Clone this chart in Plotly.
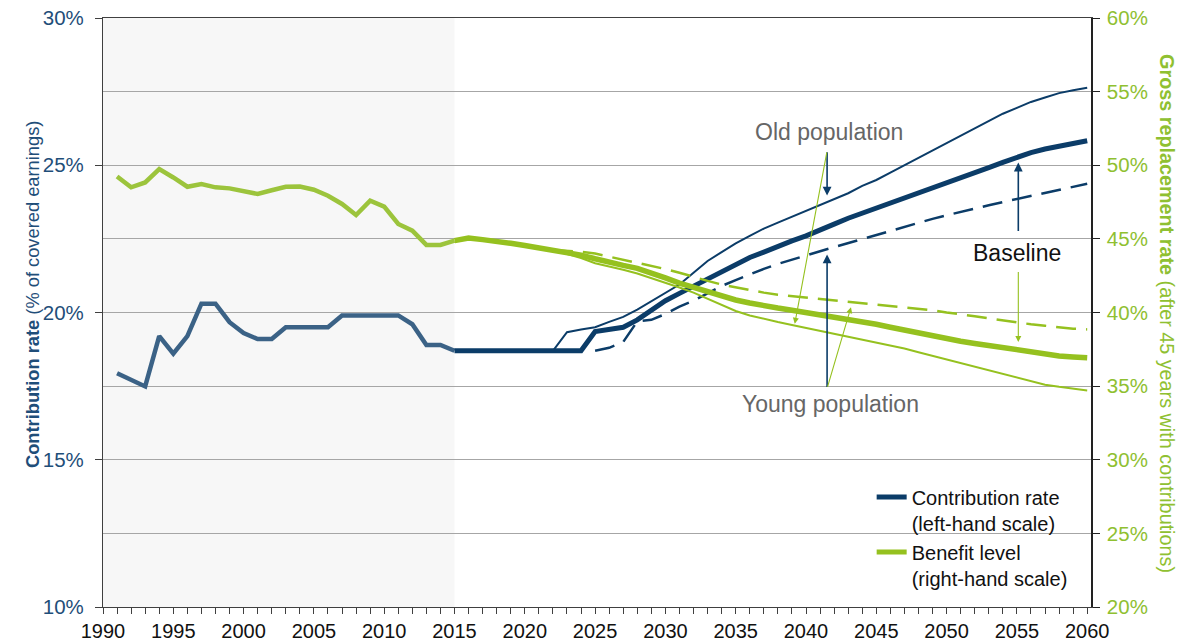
import plotly.graph_objects as go

# ---------------- data ----------------
years_hist = list(range(1991, 2016))
contrib_hist = [17.94, 17.72, 17.49, 19.2, 18.6, 19.2, 20.3, 20.3, 19.67, 19.3, 19.1, 19.1,
                19.5, 19.5, 19.5, 19.5, 19.9, 19.9, 19.9, 19.9, 19.9, 19.6, 18.9, 18.9, 18.7]
benefit_hist = [49.24, 48.5, 48.83, 49.74, 49.17, 48.54, 48.72, 48.5, 48.43, 48.27, 48.05, 48.3,
                48.54, 48.56, 48.34, 47.93, 47.37, 46.62, 47.6, 47.19, 46.01, 45.56, 44.59, 44.59, 44.88]

years_base = list(range(2015, 2061))
contrib_base = [18.7] * 10 + [19.35, 19.42, 19.5, 19.75, 20.1, 20.4, 20.65, 20.9, 21.15, 21.4,
                              21.65, 21.87, 22.05, 22.25, 22.43, 22.6, 22.82, 23.0, 23.2, 23.37,
                              23.55, 23.72, 23.88, 24.04, 24.2, 24.37, 24.55, 24.73, 24.92, 25.1,
                              25.28, 25.43, 25.55, 25.65, 25.75, 25.83]
benefit_base = [44.88, 45.06, 44.95, 44.85, 44.7, 44.55, 44.4, 44.25, 44.1, 43.9, 43.65, 43.4,
                43.2, 43.0, 42.7, 42.35, 42.0, 41.7, 41.4, 41.1, 40.85, 40.65, 40.45, 40.3, 40.15,
                40.0, 39.85, 39.7, 39.55, 39.38, 39.2, 39.0, 38.8, 38.58, 38.37, 38.2, 38.05, 37.9,
                37.75, 37.6, 37.45, 37.3, 37.15, 37.05, 36.98, 36.93]

years_old = list(range(2022, 2061))
contrib_old = [18.7, 19.33, 19.42, 19.5, 19.68, 19.85, 20.1, 20.38, 20.65, 20.95, 21.35, 21.75,
               22.05, 22.35, 22.6, 22.85, 23.05, 23.25, 23.45, 23.65, 23.85, 24.05, 24.3, 24.5,
               24.75, 25.0, 25.25, 25.5, 25.75, 26.0, 26.25, 26.5, 26.75, 26.95, 27.15, 27.3,
               27.45, 27.55, 27.63]
benefit_old = [44.25, 44.0, 43.7, 43.35, 43.15, 42.9, 42.65, 42.35, 42.0, 41.7, 41.35, 40.95,
               40.5, 40.1, 39.8, 39.55, 39.35, 39.15, 38.95, 38.75, 38.55, 38.35, 38.15, 37.95,
               37.75, 37.55, 37.3, 37.05, 36.8, 36.55, 36.3, 36.05, 35.8, 35.55, 35.3, 35.1,
               34.95, 34.8, 34.7]

years_young_c = list(range(2025, 2061))
contrib_young = [18.7, 18.8, 19.0, 19.7, 19.75, 19.95, 20.2, 20.4, 20.65, 20.9, 21.1, 21.3,
                 21.48, 21.65, 21.8, 21.95, 22.08, 22.22, 22.36, 22.5, 22.64, 22.78, 22.92,
                 23.05, 23.18, 23.3, 23.42, 23.53, 23.64, 23.75, 23.85, 23.95, 24.05, 24.15,
                 24.27, 24.37]
years_young_b = list(range(2022, 2061))
benefit_young = [44.25, 44.2, 44.12, 44.0, 43.8, 43.6, 43.4, 43.2, 42.95, 42.7, 42.4, 42.15,
                 41.9, 41.7, 41.5, 41.35, 41.2, 41.1, 41.0, 40.9, 40.85, 40.75, 40.65, 40.55,
                 40.45, 40.35, 40.25, 40.15, 40.0, 39.9, 39.75, 39.6, 39.45, 39.3, 39.2, 39.1,
                 39.0, 38.9, 38.85]

legend_names = ["Contribution rate<br>(left-hand scale)", "Benefit level<br>(right-hand scale)"]

# ---------------- styles ----------------
NAVY = "#0b3c68"
STEEL = "#3b6286"
GREEN = "#95c11f"
GREEN_H = "#9cc43c"
TICK_GREEN = "#8fc031"
TITLE_NAVY = "#1f4e79"
FONT = "Arial, Liberation Sans, sans-serif"

fig = go.Figure()

# historical
fig.add_trace(go.Scatter(x=years_hist, y=contrib_hist, mode="lines",
                         line=dict(color=STEEL, width=4.5), showlegend=False, yaxis="y"))
fig.add_trace(go.Scatter(x=years_hist, y=benefit_hist, mode="lines",
                         line=dict(color=GREEN_H, width=4.5), showlegend=False, yaxis="y2"))

# benefit projections (right axis)
fig.add_trace(go.Scatter(x=years_young_b, y=benefit_young, mode="lines",
                         line=dict(color=GREEN, width=2.5, dash="20px,10px"), showlegend=False, yaxis="y2"))
fig.add_trace(go.Scatter(x=years_old, y=benefit_old, mode="lines",
                         line=dict(color=GREEN, width=2), showlegend=False, yaxis="y2"))
fig.add_trace(go.Scatter(x=years_base, y=benefit_base, mode="lines",
                         line=dict(color=GREEN, width=5.5), showlegend=False, yaxis="y2"))

# contribution projections (left axis)
fig.add_trace(go.Scatter(x=years_young_c, y=contrib_young, mode="lines",
                         line=dict(color=NAVY, width=2.5, dash="20px,10px"), showlegend=False, yaxis="y"))
fig.add_trace(go.Scatter(x=years_old, y=contrib_old, mode="lines",
                         line=dict(color=NAVY, width=2), showlegend=False, yaxis="y"))
fig.add_trace(go.Scatter(x=years_base, y=contrib_base, mode="lines",
                         line=dict(color=NAVY, width=5), showlegend=False, yaxis="y"))

# legend entries
fig.add_trace(go.Scatter(x=[None], y=[None], mode="lines", name=legend_names[0],
                         line=dict(color=NAVY, width=5)))
fig.add_trace(go.Scatter(x=[None], y=[None], mode="lines", name=legend_names[1],
                         line=dict(color=GREEN, width=5), yaxis="y2"))

# shaded historical period
fig.add_shape(type="rect", xref="x", yref="paper", x0=1990, x1=2015, y0=0, y1=1,
              fillcolor="#f7f7f7", line=dict(width=0), layer="below")

ann = []
# text labels
ann.append(dict(x=2041.67, y=26.14, xref="x", yref="y", text="Old population", showarrow=False,
                font=dict(size=23, color="#666666", family=FONT)))
ann.append(dict(x=2041.74, y=16.88, xref="x", yref="y", text="Young population", showarrow=False,
                font=dict(size=23, color="#666666", family=FONT)))
ann.append(dict(x=2054.98, y=22.03, xref="x", yref="y", text="Baseline", showarrow=False,
                font=dict(size=23, color="#111111", family=FONT)))


def arrow(x, y, ax, ay, yref, color, width):
    return dict(x=x, y=y, ax=ax, ay=ay, xref="x", yref=yref, axref="x", ayref=yref,
                showarrow=True, arrowhead=2, arrowsize=1.1, arrowwidth=width,
                arrowcolor=color, text="", standoff=0, startstandoff=0)


ann.append(arrow(2041.5, 23.97, 2041.5, 25.49, "y", NAVY, 1.6))
ann.append(arrow(2039.2, 39.23, 2041.5, 50.98, "y2", GREEN, 1.1))
ann.append(arrow(2041.5, 21.97, 2041.5, 17.42, "y", NAVY, 1.6))
ann.append(arrow(2043.2, 40.36, 2041.5, 34.85, "y2", GREEN, 1.1))
ann.append(arrow(2055.1, 25.09, 2055.1, 22.72, "y", NAVY, 1.6))
ann.append(arrow(2055.1, 38.0, 2055.1, 42.85, "y2", GREEN, 1.1))

# axis titles
ann.append(dict(x=-0.084, y=0.5305, xref="paper", yref="paper", textangle=-90, showarrow=False,
                text="<b>Contribution rate</b> (% of covered earnings)",
                font=dict(size=18.3, color=TITLE_NAVY, family=FONT)))
ann.append(dict(x=1.090, y=0.4975, xref="paper", yref="paper", textangle=90, showarrow=False,
                text="<b>Gross replacement rate</b> (after 45 years with contributions)",
                font=dict(size=19.8, color=TICK_GREEN, family=FONT)))

# the page body has an 8px margin; margins are offset so the plot area lands at
# x 103..1091, y 17..607 in the window
fig.update_layout(
    width=1195, height=644,
    margin=dict(l=95, r=112, t=10, b=45, autoexpand=False),
    plot_bgcolor="white", paper_bgcolor="white",
    font=dict(family=FONT, size=20, color="#111111"),
    annotations=ann,
    showlegend=True,
    legend=dict(x=0.778, y=0.22, xanchor="left", yanchor="top", bgcolor="rgba(0,0,0,0)",
                font=dict(size=20, color="#111111", family=FONT), valign="top",
                tracegroupgap=1, itemwidth=30),
    xaxis=dict(range=[1990, 2060.27], tickmode="linear", tick0=1990, dtick=5, automargin=False,
               ticks="outside", ticklen=6, tickcolor="#404040", showgrid=False,
               showline=True, linecolor="#404040", linewidth=1.2, mirror=True,
               minor=dict(dtick=1, ticks="outside", ticklen=6, tickcolor="#404040"),
               tickfont=dict(size=20, color="#111111"), zeroline=False,
               ticklabeloverflow="allow"),
    yaxis=dict(range=[10, 30], tickmode="linear", tick0=10, dtick=5, ticksuffix="%", automargin=False,
               ticks="outside", ticklen=7, tickcolor="#404040",
               showgrid=True, gridcolor="#a6a6a6", gridwidth=1.3,
               minor=dict(dtick=2.5, showgrid=True, gridcolor="#a6a6a6", gridwidth=1.3),
               showline=True, linecolor="#404040", linewidth=1.2,
               tickfont=dict(size=20.5, color=TITLE_NAVY), zeroline=False,
               ticklabeloverflow="allow", ticklabelstandoff=7),
    yaxis2=dict(range=[20, 60], tickmode="linear", tick0=20, dtick=5, ticksuffix="%", automargin=False,
                overlaying="y", side="right", ticks="outside", ticklen=7, tickcolor="#222222",
                showgrid=False, showline=True, linecolor="#222222", linewidth=1.5,
                tickfont=dict(size=20.5, color=TICK_GREEN), zeroline=False,
                ticklabeloverflow="allow", ticklabelstandoff=3),
)

fig.write_html("out.html")
